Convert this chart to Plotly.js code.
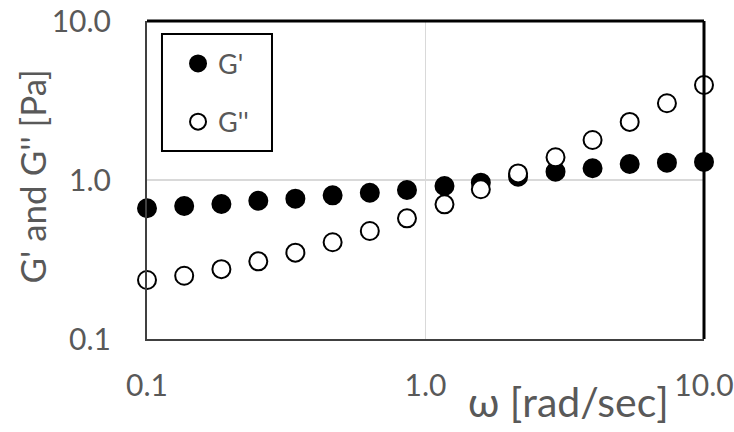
<!DOCTYPE html>
<html>
<head>
<meta charset="utf-8">
<script src="https://cdn.plot.ly/plotly-3.0.1.min.js"></script>
<style>
  html, body { margin: 0; padding: 0; background: #ffffff; }
  #chart { width: 734px; height: 432px; }
</style>
</head>
<body>
<div id="chart"></div>
<script>
// Angular frequency sweep [rad/sec]
const omega = [0.1, 0.136, 0.185, 0.251, 0.341, 0.464, 0.631, 0.858,
               1.17, 1.58, 2.15, 2.93, 3.98, 5.41, 7.36, 10.0];
// Storage modulus G' [Pa]
const gPrime = [0.664, 0.686, 0.706, 0.741, 0.763, 0.801, 0.832, 0.865,
                0.917, 0.962, 1.049, 1.128, 1.185, 1.26, 1.285, 1.30];
// Loss modulus G'' [Pa]
const gDouble = [0.235, 0.250, 0.275, 0.308, 0.349, 0.406, 0.478, 0.574,
                 0.703, 0.874, 1.10, 1.39, 1.785, 2.32, 3.04, 3.96];

const tickVals = [0.1, 1, 10];
const tickText = ['0.1', '1.0', '10.0'];
const seriesNames = ["G'", "G''"];

const FONT = 'Lato, "Open Sans", sans-serif';
const GREY = '#595959';

const traces = [
  {
    x: omega, y: gPrime, name: seriesNames[0],
    type: 'scatter', mode: 'markers', cliponaxis: false,
    legend: 'legend',
    marker: { symbol: 'circle', size: 18, color: '#000000',
              line: { color: '#000000', width: 2 } }
  },
  {
    x: omega, y: gDouble, name: seriesNames[1],
    type: 'scatter', mode: 'markers', cliponaxis: false,
    legend: 'legend2',
    marker: { symbol: 'circle', size: 18, color: '#ffffff',
              line: { color: '#000000', width: 2 } }
  }
];

const legendStyle = {
  xanchor: 'left', yanchor: 'middle',
  bgcolor: 'rgba(0,0,0,0)', borderwidth: 0,
  font: { family: FONT, size: 27, color: GREY },
  itemsizing: 'trace'
};

const layout = {
  width: 734, height: 432,
  margin: { l: 147, r: 30, t: 21, b: 93 },
  paper_bgcolor: '#ffffff', plot_bgcolor: '#ffffff',
  font: { family: FONT, color: GREY },
  xaxis: {
    type: 'log', range: [-1, 1],
    tickvals: tickVals, ticktext: tickText,
    ticks: '', ticklabelstandoff: 19,
    tickfont: { family: FONT, size: 30, color: GREY },
    showgrid: true, gridcolor: '#d9d9d9', gridwidth: 1.5,
    showline: true, linecolor: '#404040', linewidth: 2,
    zeroline: false
  },
  yaxis: {
    type: 'log', range: [-1, 1],
    tickvals: tickVals, ticktext: tickText,
    ticks: '', ticklabelstandoff: 28,
    tickfont: { family: FONT, size: 30, color: GREY },
    showgrid: true, gridcolor: '#d9d9d9', gridwidth: 1.5,
    showline: true, linecolor: '#404040', linewidth: 2,
    zeroline: false
  },
  showlegend: true,
  legend: Object.assign({ x: 0.0557, y: 0.865 }, legendStyle),
  legend2: Object.assign({ x: 0.0557, y: 0.682 }, legendStyle),
  shapes: [
    // frame on the top and right sides of the plot area
    { type: 'line', xref: 'paper', yref: 'paper', x0: 0, x1: 1, y0: 1, y1: 1,
      layer: 'above', line: { color: '#000000', width: 3 } },
    { type: 'line', xref: 'paper', yref: 'paper', x0: 1, x1: 1, y0: 0, y1: 1,
      layer: 'above', line: { color: '#000000', width: 3 } },
    // legend box
    { type: 'rect', xref: 'paper', yref: 'paper',
      x0: 0.0269, x1: 0.2244, y0: 0.5912, y1: 0.9591,
      layer: 'above', line: { color: '#000000', width: 2 } }
  ],
  annotations: [
    { text: '\u03c9 [rad/sec]', xref: 'paper', yref: 'paper',
      x: 0.7576, y: -0.198, xanchor: 'center', yanchor: 'middle',
      showarrow: false, font: { family: FONT, size: 41, color: GREY } },
    { text: "G' and G'' [Pa]", xref: 'paper', yref: 'paper',
      x: -0.2065, y: 0.511, xanchor: 'center', yanchor: 'middle',
      textangle: -90, showarrow: false,
      font: { family: FONT, size: 35, color: GREY } }
  ]
};

Plotly.newPlot('chart', traces, layout, { staticPlot: true, displayModeBar: false });
</script>
</body>
</html>
